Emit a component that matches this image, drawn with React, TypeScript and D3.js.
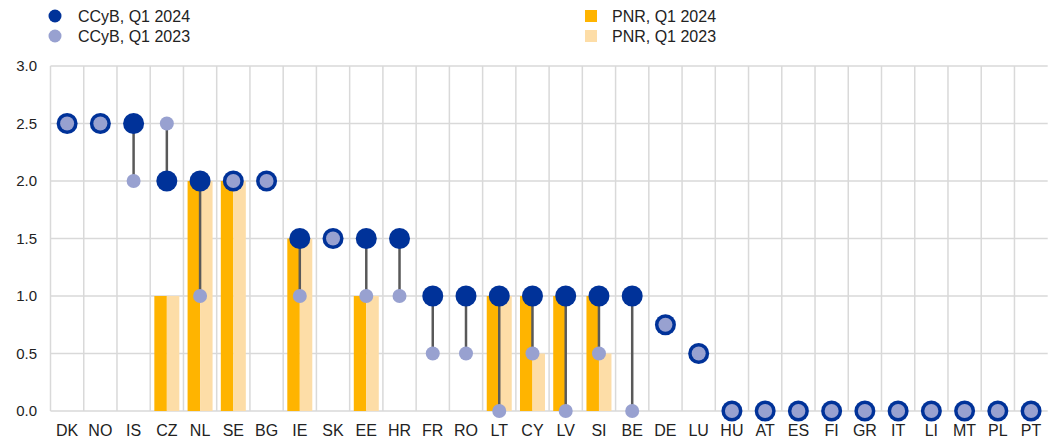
import React, { useEffect, useRef } from "react";
import { select, scaleBand, scaleLinear } from "d3";

const countries = ["DK", "NO", "IS", "CZ", "NL", "SE", "BG", "IE", "SK", "EE", "HR", "FR", "RO", "LT", "CY", "LV", "SI", "BE", "DE", "LU", "HU", "AT", "ES", "FI", "GR", "IT", "LI", "MT", "PL", "PT"];
const ccyb2024 = [2.5, 2.5, 2.5, 2.0, 2.0, 2.0, 2.0, 1.5, 1.5, 1.5, 1.5, 1.0, 1.0, 1.0, 1.0, 1.0, 1.0, 1.0, 0.75, 0.5, 0, 0, 0, 0, 0, 0, 0, 0, 0, 0];
const ccyb2023 = [2.5, 2.5, 2.0, 2.5, 1.0, 2.0, 2.0, 1.0, 1.5, 1.0, 1.0, 0.5, 0.5, 0.0, 0.5, 0.0, 0.5, 0.0, 0.75, 0.5, 0, 0, 0, 0, 0, 0, 0, 0, 0, 0];
const pnr2024 = [0, 0, 0, 1.0, 2.0, 2.0, 0, 1.5, 0, 1.0, 0, 0, 0, 1.0, 1.0, 1.0, 1.0, 0, 0, 0, 0, 0, 0, 0, 0, 0, 0, 0, 0, 0];
const pnr2023 = [0, 0, 0, 1.0, 2.0, 2.0, 0, 1.5, 0, 1.0, 0, 0, 0, 1.0, 0.5, 0, 0.5, 0, 0, 0, 0, 0, 0, 0, 0, 0, 0, 0, 0, 0];
const yTicks = [0, 0.5, 1.0, 1.5, 2.0, 2.5, 3.0];

const DARK = "#003299";
const LIGHT = "#98a1d0";
const ORANGE = "#ffb400";
const PALE = "#fddda7";
const GRID = "#d9d9d9";
const FONT = "Liberation Sans, Arial, sans-serif";

const W = 1048;
const H = 444;
const left = 50.5;
const right = 1047.7;
const top = 66;
const bottom = 411;

const App: React.FC = () => {
  const svgRef = useRef<SVGSVGElement>(null);

  useEffect(() => {
    const svg = select(svgRef.current);
    svg.selectAll("*").remove();

    const x = scaleBand<string>().domain(countries).range([left, right]);
    const y = scaleLinear().domain([0, 3]).range([bottom, top]);
    const bw = x.bandwidth();
    const barW = 12.5;

    // grid
    svg
      .append("g")
      .selectAll("line")
      .data(yTicks)
      .join("line")
      .attr("x1", left)
      .attr("x2", right)
      .attr("y1", (d) => y(d))
      .attr("y2", (d) => y(d))
      .attr("stroke", GRID)
      .attr("stroke-width", 1.5);
    svg
      .append("g")
      .selectAll("line")
      .data(countries)
      .join("line")
      .attr("x1", (d) => (x(d) as number))
      .attr("x2", (d) => (x(d) as number))
      .attr("y1", top)
      .attr("y2", bottom)
      .attr("stroke", GRID)
      .attr("stroke-width", 1.5);

    // y labels
    svg
      .append("g")
      .selectAll("text")
      .data(yTicks)
      .join("text")
      .attr("x", 37)
      .attr("y", (d) => y(d) + 5)
      .attr("text-anchor", "end")
      .style("font", `15px ${FONT}`)
      .attr("fill", "#222")
      .text((d) => d.toFixed(1));

    // x labels
    svg
      .append("g")
      .selectAll("text")
      .data(countries)
      .join("text")
      .attr("x", (d) => (x(d) as number) + bw / 2)
      .attr("y", 436)
      .attr("text-anchor", "middle")
      .style("font", `16px ${FONT}`)
      .attr("fill", "#222")
      .text((d) => d);

    // PNR bars
    svg
      .append("g")
      .selectAll("rect")
      .data(countries)
      .join("rect")
      .attr("x", (d) => (x(d) as number) + bw / 2 - barW)
      .attr("width", barW)
      .attr("y", (d, i) => y(pnr2024[i]))
      .attr("height", (d, i) => bottom - y(pnr2024[i]))
      .attr("fill", ORANGE);
    svg
      .append("g")
      .selectAll("rect")
      .data(countries)
      .join("rect")
      .attr("x", (d) => (x(d) as number) + bw / 2)
      .attr("width", barW)
      .attr("y", (d, i) => y(pnr2023[i]))
      .attr("height", (d, i) => bottom - y(pnr2023[i]))
      .attr("fill", PALE);

    // connectors
    svg
      .append("g")
      .selectAll("line")
      .data(countries)
      .join("line")
      .attr("x1", (d) => (x(d) as number) + bw / 2)
      .attr("x2", (d) => (x(d) as number) + bw / 2)
      .attr("y1", (d, i) => y(ccyb2024[i]))
      .attr("y2", (d, i) => y(ccyb2023[i]))
      .attr("stroke", "#595959")
      .attr("stroke-width", 2.5);

    // CCyB dots
    svg
      .append("g")
      .selectAll("circle")
      .data(countries)
      .join("circle")
      .attr("cx", (d) => (x(d) as number) + bw / 2)
      .attr("cy", (d, i) => y(ccyb2024[i]))
      .attr("r", 10.5)
      .attr("fill", DARK);
    svg
      .append("g")
      .selectAll("circle")
      .data(countries)
      .join("circle")
      .attr("cx", (d) => (x(d) as number) + bw / 2)
      .attr("cy", (d, i) => y(ccyb2023[i]))
      .attr("r", 7)
      .attr("fill", LIGHT);

    // legend
    const leg = svg.append("g");
    leg.append("circle").attr("cx", 55).attr("cy", 16).attr("r", 6.5).attr("fill", DARK);
    leg.append("circle").attr("cx", 55).attr("cy", 36).attr("r", 6.5).attr("fill", LIGHT);
    leg.append("rect").attr("x", 585).attr("y", 10).attr("width", 12).attr("height", 12).attr("fill", ORANGE);
    leg.append("rect").attr("x", 585).attr("y", 30).attr("width", 12).attr("height", 12).attr("fill", PALE);
    const items = [
      { t: "CCyB, Q1 2024", x: 78, y: 22 },
      { t: "CCyB, Q1 2023", x: 78, y: 42 },
      { t: "PNR, Q1 2024", x: 612, y: 22 },
      { t: "PNR, Q1 2023", x: 612, y: 42 },
    ];
    leg
      .selectAll("text")
      .data(items)
      .join("text")
      .attr("x", (d) => d.x)
      .attr("y", (d) => d.y)
      .style("font", `16px ${FONT}`)
      .attr("fill", "#222")
      .text((d) => d.t);
  }, []);

  return (
    <svg
      ref={svgRef}
      width={W}
      height={H}
      style={{ position: "absolute", left: 0, top: 0, background: "white" }}
    />
  );
};

export default App;
